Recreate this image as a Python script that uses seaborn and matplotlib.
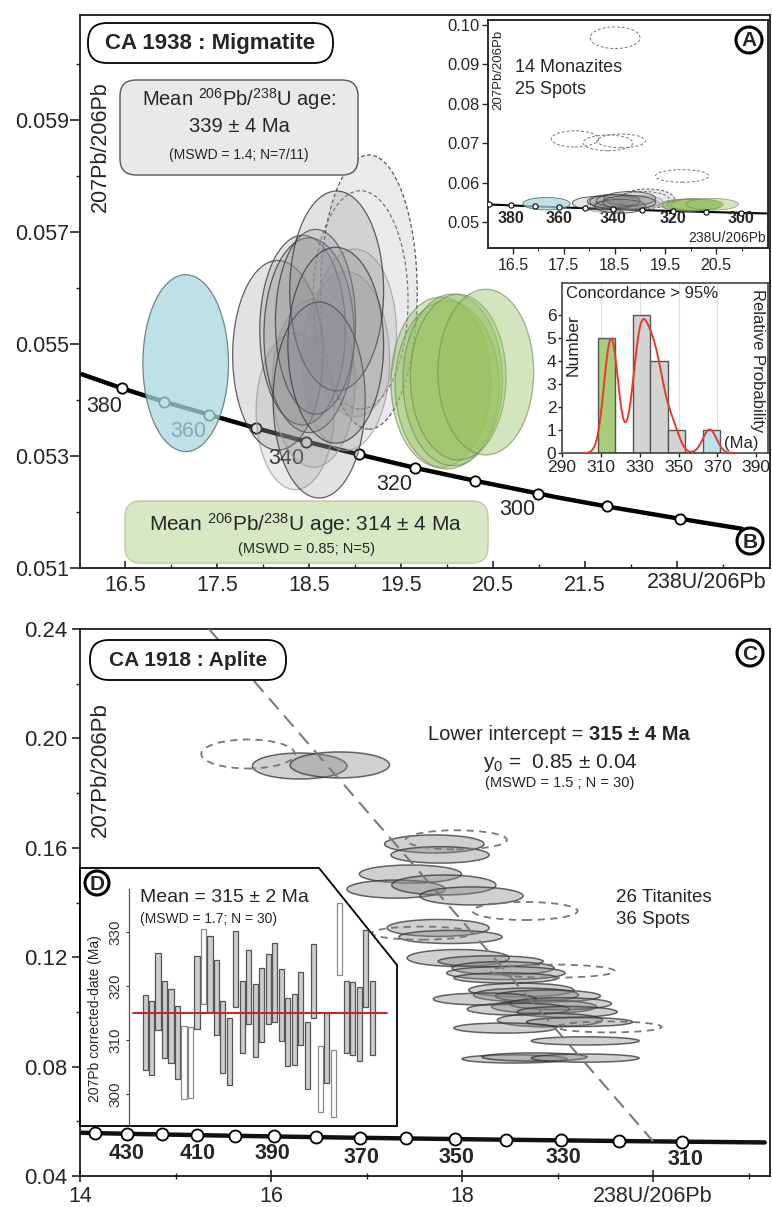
import matplotlib
matplotlib.use("Agg")
import seaborn as sns
import matplotlib.pyplot as plt
from matplotlib.colors import to_rgba
from matplotlib.patches import Ellipse, Polygon, FancyBboxPatch, Circle
from matplotlib.ticker import FixedLocator

# ---------------- data ----------------
# Tera-Wasserburg concordia nodes: age (Ma), 238U/206Pb, 207Pb/206Pb
conc_age = [445, 440, 430, 420, 410, 400, 390, 380, 370, 360, 350, 340, 330, 320, 310, 300, 297, 290, 280, 272]
conc_x = [14.000, 14.157, 14.497, 14.854, 15.228, 15.621, 16.034, 16.469, 16.927, 17.411, 17.923,
          18.464, 19.039, 19.649, 20.299, 20.992, 21.170, 21.733, 22.527, 23.203]
conc_y = [0.05582, 0.05569, 0.05544, 0.05519, 0.05495, 0.05470, 0.05446, 0.05421, 0.05397, 0.05374, 0.05350,
          0.05326, 0.05303, 0.05279, 0.05256, 0.05233, 0.05227, 0.05210, 0.05188, 0.05170]

# concordia age labels, migmatite panel (B)
lab_b_age = [380, 360, 340, 320, 300]
lab_b_x = [16.27, 17.19, 18.25, 19.42, 20.76]
lab_b_y = [0.05389, 0.05343, 0.05296, 0.05250, 0.05204]
# concordia age labels, aplite panel (C)
lab_c_age = [430, 410, 390, 370, 350, 330, 310]
lab_c_x = [14.49, 15.23, 16.02, 16.95, 17.94, 19.06, 20.34]
lab_c_y = [0.0484, 0.0484, 0.0484, 0.0467, 0.0469, 0.0466, 0.0460]

# monazite spots (CA 1938): centre, full width / height of the error ellipse, group
mz_x = [17.16, 18.16, 18.43, 18.50, 18.57, 18.80, 18.61, 18.79, 18.35, 18.55, 18.90, 19.00,
        19.93, 20.00, 20.06, 20.12, 20.42, 19.15, 19.06, 18.51, 17.72, 18.37, 18.63, 19.83]
mz_y = [0.05466, 0.05480, 0.05525, 0.05516, 0.05540, 0.05595, 0.05400, 0.05498, 0.05380, 0.05430, 0.05470, 0.05520,
        0.05432, 0.05427, 0.05436, 0.05441, 0.05450, 0.05593, 0.05579, 0.09680, 0.07110, 0.07010, 0.07060, 0.06170]
mz_w = [0.93, 0.98, 0.93, 0.98, 0.87, 1.02, 1.00, 1.04, 0.85, 0.90, 0.95, 0.90,
        1.08, 1.13, 1.08, 1.04, 1.04, 1.05, 1.03, 0.98, 0.93, 0.98, 0.95, 1.05]
mz_h = [0.00316, 0.00339, 0.00339, 0.00348, 0.00330, 0.00357, 0.00350, 0.00350, 0.00280, 0.00300, 0.00320, 0.00300,
        0.00304, 0.00300, 0.00307, 0.00296, 0.00296, 0.00490, 0.00390, 0.00550, 0.00410, 0.00400, 0.00350, 0.00320]
mz_kind = ['blue', 'grey', 'grey', 'grey', 'grey', 'grey', 'grey', 'grey', 'greyx', 'greyx', 'greyx', 'greyx',
           'green', 'green', 'green', 'green', 'green', 'discf', 'disc', 'disc', 'disc', 'disc', 'disc', 'disc']

# histogram of concordant monazite ages (Ma)
h_green = [314.0, 314.8, 315.3, 315.8, 316.5]
h_grey = [327.5, 329.5, 330.5, 331.0, 332.0, 334.5, 336.5, 338.0, 339.0, 342.0, 347.0]
h_blue = [366.0]
hist_bins = [308.5, 317.5, 326.5, 335.5, 344.5, 353.5, 362.5, 371.5]

# titanite spots (CA 1918)
ti_x = [16.30, 16.72, 17.71, 17.77, 17.46, 17.31, 17.81, 18.10, 17.75, 17.88, 17.96, 18.30, 18.43, 18.46, 18.46,
        18.62, 18.67, 18.90, 18.24, 18.86, 19.03, 18.59, 19.10, 18.92, 19.23, 18.45, 19.29, 18.55, 18.76, 19.29,
        15.76, 17.94, 18.66, 17.58, 18.95, 19.54]
ti_y = [0.1899, 0.1903, 0.1614, 0.1574, 0.1504, 0.1449, 0.1464, 0.1424, 0.1307, 0.1274, 0.1197, 0.1185, 0.1160,
        0.1142, 0.1124, 0.1080, 0.1062, 0.1058, 0.1047, 0.1019, 0.1030, 0.1010, 0.1000, 0.0970, 0.0963, 0.0941,
        0.0894, 0.0828, 0.0835, 0.0831, 0.1943, 0.1629, 0.1369, 0.1288, 0.1149, 0.0945]
ti_w = [0.99, 1.04, 1.04, 1.03, 1.07, 1.03, 1.09, 1.08, 1.07, 1.08, 1.07, 1.10, 1.07, 1.24, 1.09, 1.10, 1.10, 1.10,
        1.08, 1.10, 1.07, 1.07, 1.05, 1.10, 1.11, 1.07, 1.13, 1.10, 1.10, 1.13, 0.98, 1.06, 1.10, 1.05, 1.30, 1.10]
ti_h = [0.0095, 0.0095, 0.0066, 0.0060, 0.0066, 0.0066, 0.0073, 0.0066, 0.0062, 0.0048, 0.0062, 0.0040, 0.0048,
        0.0048, 0.0037, 0.0050, 0.0050, 0.0044, 0.0044, 0.0048, 0.0044, 0.0044, 0.0040, 0.0050, 0.0033, 0.0037,
        0.0030, 0.0030, 0.0030, 0.0030, 0.0106, 0.0070, 0.0066, 0.0048, 0.0048, 0.0040]
ti_used = [1, 1, 1, 1, 1, 1, 1, 1, 1, 1, 1, 1, 1, 1, 1, 1, 1, 1, 1, 1, 1, 1, 1, 1, 1, 1, 1, 1, 1, 1,
           0, 0, 0, 0, 0, 0]

# discordia (regression through titanites)
disc_x = [15.35, 20.00]
disc_y = [0.2400, 0.0527]

# 207Pb-corrected dates of the titanite spots (Ma), bar top / bottom
d_hi = [318.3, 317.2, 326.1, 320.9, 319.5, 316.3, 312.6, 312.4, 325.6, 330.6, 329.3, 324.9, 317.2, 314.1, 330.2,
        321.0, 326.7, 320.4, 323.4, 326.0, 328.0, 323.2, 317.7, 318.5, 322.6, 313.3, 327.7, 308.9, 315.0, 308.2,
        335.4, 320.9, 320.7, 319.8, 330.3, 321.0]
d_lo = [304.4, 303.6, 311.8, 306.7, 305.8, 302.7, 299.1, 299.3, 312.0, 316.7, 315.2, 311.0, 303.8, 301.6, 316.1,
        307.6, 313.0, 306.9, 309.6, 313.0, 313.3, 309.9, 305.2, 305.3, 309.0, 301.0, 314.0, 296.7, 302.0, 295.7,
        322.0, 307.6, 307.2, 306.2, 316.2, 307.2]
d_used = [1, 1, 1, 1, 1, 1, 0, 0, 1, 0, 1, 1, 1, 1, 1, 1, 1, 1, 1, 1, 1, 1, 1, 1, 1, 1, 1, 0, 1, 0,
          0, 1, 1, 1, 1, 1]
d_mean = 315

# ---------------- style ----------------
sns.set_style("ticks")
plt.rcParams['font.family'] = ['Liberation Sans', 'DejaVu Sans']
plt.rcParams['mathtext.fontset'] = 'custom'
plt.rcParams['mathtext.rm'] = 'Liberation Sans'
plt.rcParams['mathtext.it'] = 'Liberation Sans:italic'
plt.rcParams['mathtext.bf'] = 'Liberation Sans:bold'
plt.rcParams['mathtext.default'] = 'regular'
plt.rcParams['axes.edgecolor'] = '#1a1a1a'
plt.rcParams['axes.linewidth'] = 1.3

W, H = 772, 1207
fig = plt.figure(figsize=(W / 100, H / 100), dpi=100)


def rect(x0, y0, x1, y1):
    return [x0 / W, 1 - y1 / H, (x1 - x0) / W, (y1 - y0) / H]


def ftext(x, y, s, **kw):
    return fig.text(x / W, 1 - y / H, s, **kw)


def rbox(x0, y0, x1, y1, fc, ec, r=12, lw=1.2):
    fig.add_artist(FancyBboxPatch((x0 / 100, (H - y1) / 100), (x1 - x0) / 100, (y1 - y0) / 100,
                                  boxstyle=f"round,pad=0,rounding_size={r / 100}",
                                  transform=fig.dpi_scale_trans, fc=fc, ec=ec, lw=lw, zorder=4))


def circled(x, y, letter, r=13):
    fig.add_artist(Circle((x / 100, (H - y) / 100), r / 100, transform=fig.dpi_scale_trans,
                          fc='white', ec='black', lw=2.2, zorder=5))
    ftext(x, y + 1, letter, ha='center', va='center', fontsize=15, fontweight='bold', zorder=6)


mz_style = {
    'blue': (('#a8d8df', 0.75), ('#5f7a7e', 0.9), '-', 3.2),
    'grey': (('#8e8e92', 0.25), ('#3a3a3a', 0.8), '-', 3.5),
    'greyx': (('#8e8e92', 0.18), ('#a0a0a0', 0.8), '-', 3.4),
    'green': (('#96c260', 0.42), ('#66845a', 0.6), '-', 3.6),
    'discf': (('#d6d6da', 0.50), ('#444444', 0.9), (0, (3, 2)), 3.1),
    'disc': (('#ffffff', 0.0), ('#666666', 0.9), (0, (3, 2)), 3.15),
}


def monazites(ax, lw, ymax):
    for x, y, w, h, k in zip(mz_x, mz_y, mz_w, mz_h, mz_kind):
        if y > ymax:
            continue
        fc, ec, ls, z = mz_style[k]
        ax.add_patch(Ellipse((x, y), w, h, facecolor=to_rgba(*fc), edgecolor=to_rgba(*ec),
                             linestyle=ls, lw=lw, zorder=z))


# ================= panel B : migmatite =================
axB = fig.add_axes(rect(80, 15, 770, 568))
top = [i for i, a in enumerate(conc_age) if a <= 390]
mk = [i for i, a in enumerate(conc_age) if 280 <= a <= 380 and a % 10 == 0]
sns.lineplot(x=[conc_x[i] for i in top], y=[conc_y[i] for i in top], sort=False, estimator=None,
             color='black', linewidth=3.2, ax=axB, zorder=2)
sns.scatterplot(x=[conc_x[i] for i in mk], y=[conc_y[i] for i in mk], s=55, color='white',
                edgecolor='black', linewidth=1.3, ax=axB, zorder=2.2)
for a, x, y in zip(lab_b_age, lab_b_x, lab_b_y):
    axB.text(x, y, str(a), fontsize=15.5, ha='center', va='center', zorder=2.5)
monazites(axB, 0.9, 0.06)

axB.set_xlim(16.012, 23.507)
axB.set_ylim(0.051, 0.06088)
axB.xaxis.set_major_locator(FixedLocator([16.5, 17.5, 18.5, 19.5, 20.5, 21.5, 22.5]))
axB.set_xticklabels(['16.5', '17.5', '18.5', '19.5', '20.5', '21.5', ''])
axB.xaxis.set_minor_locator(FixedLocator([17, 18, 19, 20, 21, 22, 23]))
axB.yaxis.set_major_locator(FixedLocator([0.051, 0.053, 0.055, 0.057, 0.059]))
axB.set_yticklabels(['0.051', '0.053', '0.055', '0.057', '0.059'])
axB.yaxis.set_minor_locator(FixedLocator([0.052, 0.054, 0.056, 0.058, 0.060]))
axB.tick_params(axis='y', which='major', direction='out', length=7, width=1.2, labelsize=15.5, pad=1)
axB.tick_params(axis='y', which='minor', direction='out', length=3, width=1.0)
axB.tick_params(axis='x', which='major', direction='in', length=5, width=1.2, labelsize=15.5, pad=5)
axB.tick_params(axis='x', which='minor', direction='in', length=3, width=1.0)
axB.set_xlabel('')
axB.set_ylabel('')

ftext(100, 147, '207Pb/206Pb', rotation=90, fontsize=15.5, ha='center', va='center')
ftext(707, 583, '238U/206Pb', fontsize=15.5, ha='center', va='center')

rbox(88, 23, 333, 63, 'white', 'black', r=19, lw=1.3)
ftext(210, 44, 'CA 1938 : Migmatite', fontsize=16, fontweight='bold', ha='center', va='center', zorder=6)
rbox(120, 80, 358, 175, '#e9e9eb', '#555555', r=16, lw=1.0)
ftext(239, 99, r'Mean $^{206}$Pb/$^{238}$U age:', fontsize=14.5, ha='center', va='center', zorder=6)
ftext(239, 126, '339 ± 4 Ma', fontsize=14.5, ha='center', va='center', zorder=6)
ftext(239, 155, '(MSWD = 1.4; N=7/11)', fontsize=10, ha='center', va='center', zorder=6)
rbox(125, 501, 488, 563, '#d9e8c4', '#b8cca0', r=16, lw=1.0)
ftext(306, 524, r'Mean $^{206}$Pb/$^{238}$U age: 314 ± 4 Ma', fontsize=15, ha='center', va='center', zorder=6)
ftext(306, 549, '(MSWD = 0.85; N=5)', fontsize=10.5, ha='center', va='center', zorder=6)
circled(750, 541, 'B')

# ================= inset A : all monazites =================
axA = fig.add_axes(rect(488, 20, 768, 248))
sns.lineplot(x=[conc_x[i] for i in top], y=[conc_y[i] for i in top], sort=False, estimator=None,
             color='black', linewidth=1.5, ax=axA, zorder=2)
mkA = [i for i, a in enumerate(conc_age) if 300 <= a <= 390 and a % 10 == 0]
sns.scatterplot(x=[conc_x[i] for i in mkA], y=[conc_y[i] for i in mkA], s=14, color='white',
                edgecolor='black', linewidth=0.8, ax=axA, zorder=4)
for a in lab_b_age:
    i = conc_age.index(a)
    axA.text(conc_x[i], 0.0508, str(a), fontsize=11.5, fontweight='bold', ha='center', va='center')
monazites(axA, 0.7, 1.0)
axA.set_xlim(16.008, 21.52)
axA.set_ylim(0.0434, 0.1013)
axA.xaxis.set_major_locator(FixedLocator([16.5, 17.5, 18.5, 19.5, 20.5]))
axA.xaxis.set_minor_locator(FixedLocator([17, 18, 19, 20, 21]))
axA.yaxis.set_major_locator(FixedLocator([0.05, 0.06, 0.07, 0.08, 0.09, 0.10]))
axA.set_yticklabels(['0.05', '0.06', '0.07', '0.08', '0.09', '0.10'])
axA.tick_params(axis='both', which='major', direction='out', length=4, width=1.0, labelsize=12, pad=2)
axA.tick_params(axis='both', which='minor', direction='out', length=2.5, width=0.8)
axA.tick_params(axis='x', labelsize=11.5, pad=3)
axA.set_xlabel('')
axA.set_ylabel('')
ftext(498, 70, '207Pb/206Pb', rotation=90, fontsize=9.5, ha='center', va='center')
ftext(727, 238, '238U/206Pb', fontsize=10, ha='center', va='center')
ftext(515, 67, '14 Monazites', fontsize=13, ha='left', va='center')
ftext(515, 90, '25 Spots', fontsize=13, ha='left', va='center')
circled(749, 40, 'A')

# ================= histogram inset =================
axH = fig.add_axes(rect(562, 283, 768, 453))
for xv in [310, 330, 350, 370]:
    axH.axvline(xv, color='#dddddd', lw=0.8, zorder=0)
sns.histplot(x=h_green, bins=hist_bins, color='#a8cc7c', alpha=1, edgecolor='#555555', linewidth=1, ax=axH)
sns.histplot(x=h_grey, bins=hist_bins, color='#d3d3d3', alpha=1, edgecolor='#555555', linewidth=1, ax=axH)
sns.histplot(x=h_blue, bins=hist_bins, color='#bde3e8', alpha=1, edgecolor='#555555', linewidth=1, ax=axH)
axH2 = axH.twinx()
sns.kdeplot(x=h_green + h_grey + h_blue, bw_adjust=0.45, cut=4, color='#e53b2e', linewidth=1.4, ax=axH2)
n_h = len(h_green) + len(h_grey) + len(h_blue)
axH2.set_ylim(0, 7.39 / (n_h * 9))
axH2.set_yticks([])
axH2.set_ylabel('')
for s in axH2.spines.values():
    s.set_visible(False)
axH.set_xlim(290, 396)
axH.set_ylim(0, 7.39)
axH.set_xticks([290, 310, 330, 350, 370, 390])
axH.set_yticks([0, 1, 2, 3, 4, 5, 6])
axH.tick_params(axis='y', direction='out', length=3, width=1.0, labelsize=12.5, pad=1)
axH.tick_params(axis='x', direction='out', length=3, width=1.0, labelsize=12.5, pad=2)
axH.set_xlabel('')
axH.set_ylabel('')
for s in axH.spines.values():
    s.set_color('#444444')
    s.set_linewidth(1.2)
ftext(566, 294, 'Concordance > 95%', fontsize=12, ha='left', va='center')
ftext(573, 345, 'Number', rotation=90, fontsize=12.5, ha='center', va='center')
ftext(757, 361, 'Relative Probability', rotation=270, fontsize=12, ha='center', va='center')
ftext(741, 443, '(Ma)', fontsize=12, ha='center', va='center')

# ================= panel C : aplite =================
axC = fig.add_axes(rect(80, 629, 770, 1176))
bot = [i for i, a in enumerate(conc_age) if a >= 297]
mkC = [i for i, a in enumerate(conc_age) if 310 <= a <= 440]
sns.lineplot(x=[conc_x[i] for i in bot], y=[conc_y[i] for i in bot], sort=False, estimator=None,
             color='#111111', linewidth=3.2, ax=axC, zorder=2)
sns.scatterplot(x=[conc_x[i] for i in mkC], y=[conc_y[i] for i in mkC], s=75, color='white',
                edgecolor='black', linewidth=1.3, ax=axC, zorder=2.2)
for a, x, y in zip(lab_c_age, lab_c_x, lab_c_y):
    axC.text(x, y, str(a), fontsize=15.5, fontweight='bold', ha='center', va='center')
for x, y, w, h, u in zip(ti_x, ti_y, ti_w, ti_h, ti_used):
    if u:
        axC.add_patch(Ellipse((x, y), w, h, facecolor=to_rgba('#8a8a8a', 0.4),
                              edgecolor=to_rgba('#333333', 0.75), lw=1.1, zorder=3))
    else:
        axC.add_patch(Ellipse((x, y), w, h, facecolor='none', edgecolor='#777777',
                              linestyle=(0, (4, 3)), lw=1.3, zorder=3))
axC.plot(disc_x, disc_y, color='#7a7a7a', lw=1.5, ls=(0, (7, 4)), zorder=4)
axC.set_xlim(14, 21.225)
axC.set_ylim(0.04, 0.24)
axC.xaxis.set_major_locator(FixedLocator([14, 16, 18, 20]))
axC.set_xticklabels(['14', '16', '18', '238U/206Pb'])
axC.xaxis.set_minor_locator(FixedLocator([15, 17, 19, 21]))
axC.yaxis.set_major_locator(FixedLocator([0.04, 0.08, 0.12, 0.16, 0.20, 0.24]))
axC.set_yticklabels(['0.04', '0.08', '0.12', '0.16', '0.20', '0.24'])
axC.yaxis.set_minor_locator(FixedLocator([0.06, 0.10, 0.14, 0.18, 0.22]))
axC.tick_params(axis='y', which='major', direction='out', length=6, width=1.2, labelsize=16, pad=3)
axC.tick_params(axis='y', which='minor', direction='out', length=3, width=1.0)
axC.tick_params(axis='x', which='major', direction='inout', length=8, width=1.2, labelsize=15.5, pad=3)
axC.tick_params(axis='x', which='minor', direction='inout', length=5, width=1.0)
axC.set_xlabel('')
axC.set_ylabel('')

ftext(100, 770, '207Pb/206Pb', rotation=90, fontsize=16, ha='center', va='center')
rbox(90, 640, 286, 680, 'white', 'black', r=19, lw=1.3)
ftext(188, 661, 'CA 1918 : Aplite', fontsize=15, fontweight='bold', ha='center', va='center', zorder=6)
ftext(589, 734, 'Lower intercept = ', fontsize=14.5, ha='right', va='center')
ftext(589, 734, '315 ± 4 Ma', fontsize=14.5, fontweight='bold', ha='left', va='center')
ftext(560, 763, r'y$_0$ =  0.85 ± 0.04', fontsize=15, ha='center', va='center')
ftext(560, 783, '(MSWD = 1.5 ; N = 30)', fontsize=10.5, ha='center', va='center')
ftext(616, 897, '26 Titanites', fontsize=13.5, ha='left', va='center')
ftext(616, 920, '36 Spots', fontsize=13.5, ha='left', va='center')
circled(750, 653, 'C')

# ================= inset D : weighted mean =================
poly = [(80, 868), (319, 868), (397, 965), (397, 1126), (80, 1126)]
fig.add_artist(Polygon([(x / 100, (H - y) / 100) for x, y in poly], closed=True,
                       transform=fig.dpi_scale_trans, fc='white', ec='black', lw=1.3, zorder=1.5))
axD = fig.add_axes(rect(129, 889, 397, 1125))
axD.set_zorder(3)
axD.patch.set_alpha(0)
idx = list(range(1, len(d_hi) + 1))
for i, hi, lo, u in zip(idx, d_hi, d_lo, d_used):
    axD.bar(i, hi - lo, bottom=lo, width=0.78, color='#cdcdcd' if u else 'white',
            edgecolor='#555555' if u else '#888888', linewidth=0.9, zorder=2)
axD.axhline(d_mean, xmin=0.015, xmax=0.963, color='#cc1f1f', lw=1.4, zorder=3)
axD.set_xlim(-1.47, 39.8)
axD.set_ylim(294.26, 337.96)
axD.set_xticks([])
axD.set_yticks([300, 310, 320, 330])
axD.tick_params(axis='y', direction='out', length=2, width=0.8, labelsize=11, pad=3,
                labelrotation=90, colors='#333333')
for lbl in axD.get_yticklabels():
    lbl.set_va('center')
for k in ['top', 'right', 'bottom']:
    axD.spines[k].set_visible(False)
axD.spines['left'].set_color('#555555')
axD.spines['left'].set_linewidth(0.9)
ftext(95, 1019, '207Pb corrected-date (Ma)', rotation=90, fontsize=10, ha='center', va='center', zorder=6)
ftext(140, 898, 'Mean = 315 ± 2 Ma', fontsize=14, ha='left', va='center', zorder=6)
ftext(140, 919, '(MSWD = 1.7; N = 30)', fontsize=10, ha='left', va='center', zorder=6)
circled(97, 883, 'D', r=12)

fig.savefig('out.png', dpi=100)
